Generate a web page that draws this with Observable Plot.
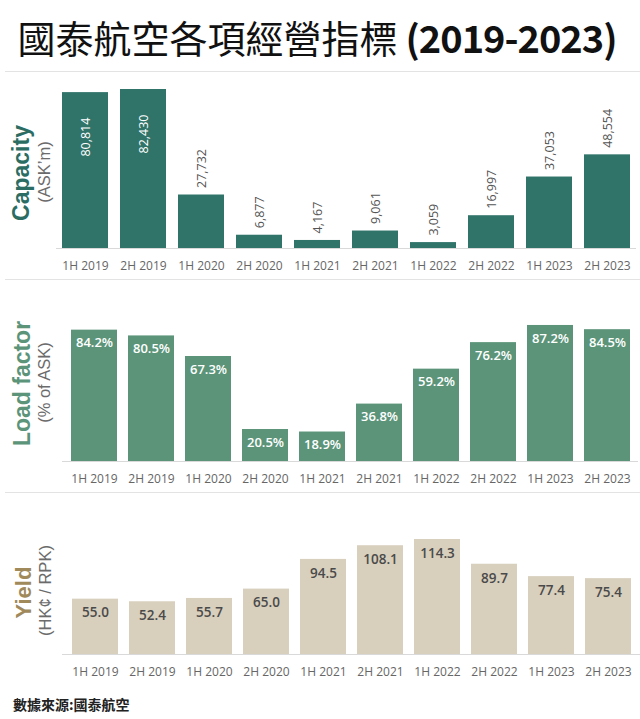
<!DOCTYPE html>
<html><head><meta charset="utf-8">
<script src="https://cdn.jsdelivr.net/npm/d3@7"></script>
<script src="https://cdn.jsdelivr.net/npm/@observablehq/plot@0.6"></script>
<style>
body{margin:0;background:#fff;width:640px;height:719px;overflow:hidden;font-family:"Open Sans",sans-serif;}
#title{height:71px;box-sizing:border-box;display:flex;align-items:center;justify-content:center;font-family:"Noto Sans CJK TC",sans-serif;font-size:38px;color:#111;white-space:nowrap;padding-top:2px;padding-right:6px}
#title span{font-weight:400}
#title b{font-weight:700;letter-spacing:-1px;margin-left:8px}
.sep{height:1px;background:#e3e3e3;margin-left:5px}
.panel svg{display:block}
#source{height:29px;line-height:28px;padding-left:13px;font-family:"Noto Sans CJK TC",sans-serif;font-size:14px;font-weight:700;color:#222}
</style></head>
<body>
<div id="title"><span>國泰航空各項經營指標</span><b>(2019-2023)</b></div>
<div class="sep"></div>
<div class="panel" id="p1"></div>
<div class="sep"></div>
<div class="panel" id="p2"></div>
<div class="sep"></div>
<div class="panel" id="p3"></div>
<div id="source">數據來源:國泰航空</div>
<script>
const periods = ["1H 2019","2H 2019","1H 2020","2H 2020","1H 2021","2H 2021","1H 2022","2H 2022","1H 2023","2H 2023"];
const capacity = [80814, 82430, 27732, 6877, 4167, 9061, 3059, 16997, 37053, 48554];
const loadFactor = [84.2, 80.5, 67.3, 20.5, 18.9, 36.8, 59.2, 76.2, 87.2, 84.5];
const yieldValues = [55.0, 52.4, 55.7, 65.0, 94.5, 108.1, 114.3, 89.7, 77.4, 75.4];
const panelTitles = ["Capacity", "Load factor", "Yield"];
const panelUnits = ["(ASK\u2019m)", "(% of ASK)", "(HK\u00a2 / RPK)"];

const rows = (vals) => periods.map((p, i) => ({period: p, value: vals[i]}));
const fmtComma = d3.format(",");
const fmtPct = (v) => v.toFixed(1) + "%";
const fmtOne = (v) => v.toFixed(1);

function sideLabels(title, unit, color, o) {
  return [
    Plot.text([title], {text: d => d, frameAnchor: "left", textAnchor: "middle", rotate: -90, dx: o.tdx, dy: o.tdy,
      fontSize: o.tsize, fontWeight: "bold", fill: color, fontFamily: "Liberation Sans, Arial, sans-serif"}),
    Plot.text([unit], {text: d => d, frameAnchor: "left", textAnchor: "middle", rotate: -90, dx: o.udx, dy: o.udy,
      fontSize: 16.5, fill: "#6b6b6b", fontFamily: "Liberation Sans, Arial, sans-serif"})
  ];
}

function axis() {
  return Plot.axisX({tickSize: 0, tickPadding: 13, fontSize: 12, fill: "#666", label: null});
}

// Panel 1: Capacity
const d1 = rows(capacity);
const max1 = d3.max(capacity);
document.getElementById("p1").append(Plot.plot({
  width: 640, height: 207, marginTop: 17, marginBottom: 31, marginLeft: 56, marginRight: 4,
  style: {fontFamily: "Open Sans, sans-serif", background: "#fff", overflow: "visible"},
  x: {domain: periods, paddingInner: 0.2, paddingOuter: 0.1},
  y: {domain: [0, max1], axis: null},
  marks: [
    Plot.barY(d1, {x: "period", y: "value", fill: "#2f7369"}),
    Plot.ruleY([0], {stroke: "#d9d9d9"}),
    Plot.text(d1.filter(d => d.value > 0.6 * max1), {x: "period", y: "value", text: d => fmtComma(d.value),
      rotate: -90, textAnchor: "end", dy: 25, fill: "#fff", fontSize: 12.5}),
    Plot.text(d1.filter(d => d.value <= 0.6 * max1), {x: "period", y: "value", text: d => fmtComma(d.value),
      rotate: -90, textAnchor: "start", dy: -7, fill: "#555", fontSize: 12.5}),
    axis(),
    ...sideLabels(panelTitles[0], panelUnits[0], "#2b6d63", {tdx: -35, tdy: 4, tsize: 23, udx: -11.5, udy: 3})
  ]
}));

// Panel 2: Load factor
const d2 = rows(loadFactor);
document.getElementById("p2").append(Plot.plot({
  width: 640, height: 212, marginTop: 25, marginBottom: 31, marginLeft: 62, marginRight: 2,
  style: {fontFamily: "Open Sans, sans-serif", background: "#fff"},
  x: {domain: periods, paddingInner: 0.2, paddingOuter: 0.1},
  y: {domain: [0, 100], axis: null},
  marks: [
    Plot.barY(d2, {x: "period", y: "value", fill: "#5b9479"}),
    Plot.ruleY([0], {stroke: "#d9d9d9"}),
    Plot.text(d2, {x: "period", y: "value", text: d => fmtPct(d.value), dy: 13,
      fill: "#fff", fontSize: 13, fontWeight: 600}),
    axis(),
    ...sideLabels(panelTitles[1], panelUnits[1], "#5b9479", {tdx: -39.5, tdy: 0, tsize: 23, udx: -18, udy: -1})
  ]
}));

// Panel 3: Yield
const d3rows = rows(yieldValues);
document.getElementById("p3").append(Plot.plot({
  width: 640, height: 197, marginTop: 46, marginBottom: 36, marginLeft: 62, marginRight: 0,
  style: {fontFamily: "Open Sans, sans-serif", background: "#fff"},
  x: {domain: periods, paddingInner: 0.2, paddingOuter: 0.1},
  y: {domain: [0, d3.max(yieldValues)], axis: null},
  marks: [
    Plot.barY(d3rows, {x: "period", y: "value", fill: "#d8cfbd"}),
    Plot.ruleY([0], {stroke: "#d9d9d9"}),
    Plot.text(d3rows, {x: "period", y: "value", text: d => fmtOne(d.value), dy: 14,
      fill: "#4a4a4a", fontSize: 13.5, fontWeight: 600}),
    axis(),
    ...sideLabels(panelTitles[2], panelUnits[2], "#a08a5c", {tdx: -39, tdy: -4.5, tsize: 22, udx: -16.3, udy: -6.5})
  ]
}));
</script>
</body></html>
